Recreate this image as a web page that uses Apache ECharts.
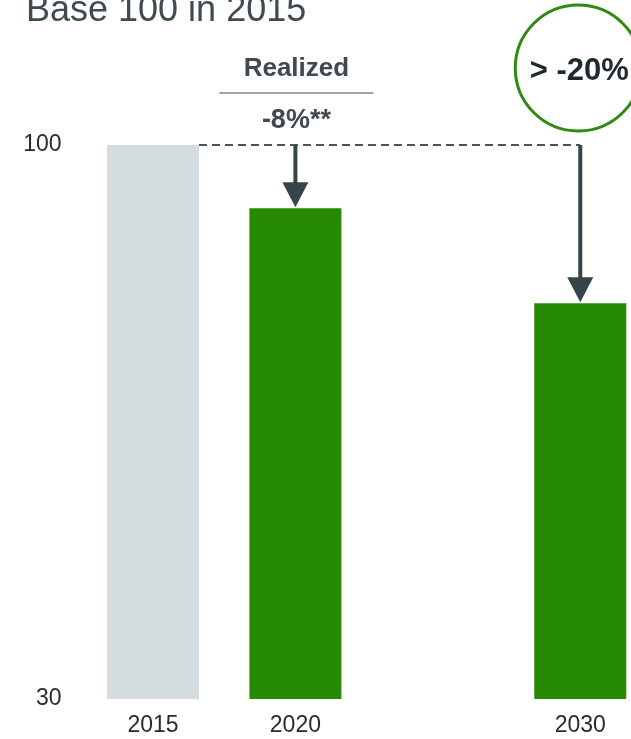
<!DOCTYPE html>
<html>
<head>
<meta charset="utf-8">
<style>
  html, body { margin: 0; padding: 0; background: #ffffff; }
  #chart { width: 631px; height: 739px; }
</style>
<script src="https://cdn.jsdelivr.net/npm/echarts@6.0.0/dist/echarts.min.js"></script>
</head>
<body>
<div id="chart"></div>
<script>
// Emissions index, base 100 in 2015
const years = [2015, 2020, 2030];
const indexValues = [100, 92, 80];
const barColors = ['#d4dcdf', '#268a02', '#268a02'];
const xTickYears = [2015, 2020, 2030];
const yTickValues = [30, 100];
const baseYear = 2015;
const baseValue = 100;
const realizedTitle = 'Realized';
const realizedChange = '-8%**';
const targetChange = '> -20%';

const BAR_W = 92;
const FONT = '"Liberation Sans", Arial, sans-serif';
const ARROW = '#37444a';
const TEXT_DARK = '#3d4a4f';

// Vertical drop arrows: from the base level down to each later bar
const arrowData = years.slice(1).map((y, i) => [y, baseValue, indexValues[i + 1]]);

function renderArrow(params, api) {
  const from = api.coord([api.value(0), api.value(1)]);
  const tip = api.coord([api.value(0), api.value(2)]);
  const headH = 25, headW = 26;
  const tipY = tip[1] - 1;
  return {
    type: 'group',
    children: [
      { type: 'line', shape: { x1: from[0], y1: from[1], x2: tip[0], y2: tipY - headH + 2 },
        style: { stroke: ARROW, lineWidth: 4 } },
      { type: 'polygon', shape: { points: [[tip[0] - headW / 2, tipY - headH], [tip[0] + headW / 2, tipY - headH], [tip[0], tipY]] },
        style: { fill: ARROW } }
    ]
  };
}

// Dashed base-level line from the right edge of the base bar to the last year
function renderBaseLine(params, api) {
  const a = api.coord([api.value(0), api.value(1)]);
  const b = api.coord([api.value(2), api.value(1)]);
  return {
    type: 'line',
    shape: { x1: a[0] + BAR_W / 2, y1: a[1], x2: b[0], y2: b[1] },
    style: { stroke: '#4b5559', lineWidth: 2, lineDash: [8, 5] }
  };
}

// "Realized" heading, rule and change label above the 2020 arrow
function renderRealized(params, api) {
  const p = api.coord([api.value(0), api.value(1)]);
  return {
    type: 'group',
    children: [
      { type: 'text', x: p[0] + 1, y: p[1] - 76,
        style: { text: realizedTitle, fill: TEXT_DARK, font: 'bold 26px ' + FONT, align: 'center', verticalAlign: 'middle' } },
      { type: 'line', shape: { x1: p[0] - 76, y1: p[1] - 52, x2: p[0] + 78, y2: p[1] - 52 },
        style: { stroke: TEXT_DARK, lineWidth: 1 } },
      { type: 'text', x: p[0] + 1, y: p[1] - 24,
        style: { text: realizedChange, fill: TEXT_DARK, font: 'bold 27px ' + FONT, align: 'center', verticalAlign: 'middle' } }
    ]
  };
}

// Circled target above the 2030 arrow
function renderTarget(params, api) {
  const p = api.coord([api.value(0), api.value(1)]);
  const cx = p[0] - 2, cy = p[1] - 77;
  return {
    type: 'group',
    children: [
      { type: 'circle', shape: { cx: cx, cy: cy, r: 63 },
        style: { fill: '#ffffff', stroke: '#2f8a12', lineWidth: 3 } },
      { type: 'text', x: cx + 1, y: cy + 3,
        style: { text: targetChange, fill: '#1f2a2e', font: 'bold 31px ' + FONT, align: 'center', verticalAlign: 'middle' } }
    ]
  };
}

const chart = echarts.init(document.getElementById('chart'), null, { renderer: 'canvas' });

chart.setOption({
  animation: false,
  backgroundColor: '#ffffff',
  title: {
    text: 'Base 100 in ' + baseYear,
    left: 21,
    top: -12,
    textStyle: { fontSize: 36, fontWeight: 'normal', color: '#3e4b50', fontFamily: FONT }
  },
  grid: { left: 67.5, right: 8, top: 145, bottom: 40 },
  xAxis: {
    type: 'value',
    min: 2012,
    max: 2031.5,
    axisLine: { show: false },
    axisTick: { show: false },
    splitLine: { show: false },
    axisLabel: {
      customValues: xTickYears,
      formatter: v => String(v),
      fontSize: 23,
      color: '#2a2a2a',
      fontFamily: FONT,
      margin: 15
    }
  },
  yAxis: {
    type: 'value',
    min: 30,
    max: 100,
    axisLine: { show: false },
    axisTick: { show: false },
    splitLine: { show: false },
    axisLabel: {
      customValues: yTickValues,
      fontSize: 23,
      color: '#2a2a2a',
      fontFamily: FONT,
      margin: 6
    }
  },
  series: [
    {
      type: 'bar',
      barWidth: BAR_W,
      data: years.map((y, i) => ({ value: [y, indexValues[i]], itemStyle: { color: barColors[i] } }))
    },
    {
      type: 'custom',
      renderItem: renderBaseLine,
      clip: false,
      z: 3,
      data: [[baseYear, baseValue, years[years.length - 1]]]
    },
    {
      type: 'custom',
      renderItem: renderArrow,
      clip: false,
      z: 4,
      data: arrowData
    },
    {
      type: 'custom',
      renderItem: renderRealized,
      clip: false,
      z: 4,
      data: [[years[1], baseValue]]
    },
    {
      type: 'custom',
      renderItem: renderTarget,
      clip: false,
      z: 4,
      data: [[years[2], baseValue]]
    }
  ]
});
</script>
</body>
</html>
